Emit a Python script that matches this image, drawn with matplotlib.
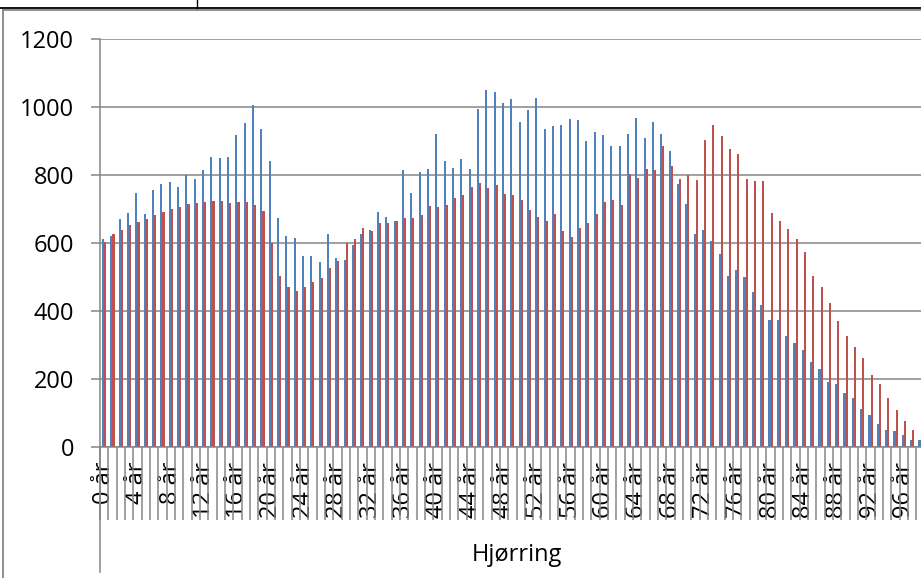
import numpy as np
import matplotlib
matplotlib.use("Agg")
import matplotlib.pyplot as plt
from matplotlib.lines import Line2D

plt.rcParams['font.family'] = ['Open Sans', 'DejaVu Sans']

# ages 0..99 (the last ones are cut off at the right edge of the picture)
ages = list(range(100))
tick_ages = list(range(0, 100, 4))
tick_labels = [f"{a} år" for a in tick_ages]

blue_vals = [612, 621, 669, 686, 745, 683, 754, 774, 778, 763,
             798, 786, 813, 852, 849, 852, 917, 952, 1006, 933,
             840, 674, 620, 613, 561, 561, 542, 626, 556, 548,
             592, 625, 638, 689, 676, 663, 813, 745, 807, 817,
             920, 840, 819, 845, 817, 993, 1050, 1043, 1011, 1024,
             956, 991, 1025, 933, 942, 946, 964, 961, 898, 925,
             918, 884, 883, 919, 968, 908, 954, 920, 870, 773,
             713, 625, 636, 604, 567, 501, 520, 499, 455, 416,
             374, 373, 326, 305, 284, 249, 229, 190, 184, 157,
             143, 112, 92, 67, 49, 46, 35, 19, 20, 10]

red_vals = [601, 625, 638, 651, 660, 670, 681, 690, 700, 705,
            713, 718, 721, 724, 723, 718, 721, 721, 711, 692,
            600, 501, 470, 457, 470, 484, 495, 526, 546, 598,
            610, 642, 634, 657, 658, 664, 673, 673, 681, 708,
            706, 711, 732, 740, 764, 776, 761, 770, 742, 739,
            726, 695, 676, 664, 683, 633, 616, 643, 658, 683,
            720, 725, 711, 801, 791, 817, 814, 884, 827, 787,
            800, 784, 902, 946, 915, 877, 861, 787, 781, 780,
            687, 664, 640, 610, 573, 503, 470, 423, 370, 325,
            293, 262, 210, 183, 142, 109, 75, 49, 30, 20]

y_ticks = [0, 200, 400, 600, 800, 1000, 1200]
group_label = "Hjørring"

BLUE = '#4F81BD'
RED = '#C0504D'
GREY = '#868686'
W, H = 921, 578
FS = 17

fig = plt.figure(figsize=(W / 100, H / 100), dpi=100)
ax = fig.add_axes([100 / W, (H - 446.7) / H, 833 / W, 408 / H])

x = np.arange(len(ages))
bw = 0.25
ax.bar(x - bw / 2, blue_vals, width=bw, color=BLUE, linewidth=0)
ax.bar(x + bw / 2, red_vals, width=bw, color=RED, linewidth=0)

ax.set_xlim(-0.5, len(ages) - 0.5)
ax.set_ylim(0, 1200)
ax.set_yticks(y_ticks)
ax.yaxis.grid(True, color=GREY, linewidth=1.1)
ax.set_axisbelow(True)

for s in ['top', 'right']:
    ax.spines[s].set_visible(False)
for s in ['left', 'bottom']:
    ax.spines[s].set_color(GREY)
    ax.spines[s].set_linewidth(1.1)

ax.tick_params(axis='y', direction='out', length=6.5, width=1.1,
               color=GREY, pad=12, labelsize=FS)

ax.set_xticks(tick_ages)
ax.set_xticklabels(tick_labels, rotation=90, fontsize=FS)
ax.tick_params(axis='x', which='major', length=0, pad=11)
ax.set_xticks(np.arange(-0.5, len(ages), 1), minor=True)
ax.tick_params(axis='x', which='minor', direction='out', length=52.8,
               width=1.1, color=GREY)

# outer category axis line under the labels
ax.plot([0, 0], [0, -(572 - 446.7) / 408], transform=ax.transAxes,
        clip_on=False, color=GREY, lw=1.1)

fig.text(517 / W, 1 - 555 / H, group_label, ha='center', va='center',
         fontsize=FS)

# chart frame and the bit of table above it
fig.add_artist(Line2D([3 / W, 3 / W], [1 - 10 / H, 0], transform=fig.transFigure,
                      color=GREY, lw=1.3))
fig.add_artist(Line2D([3 / W, 1], [1 - 10.3 / H, 1 - 10.3 / H], transform=fig.transFigure,
                      color=GREY, lw=1.3))
fig.add_artist(Line2D([0, 1], [1 - 8 / H, 1 - 8 / H], transform=fig.transFigure,
                      color='black', lw=1.3))
fig.add_artist(Line2D([197 / W, 197 / W], [1, 1 - 8 / H], transform=fig.transFigure,
                      color='black', lw=1.0))

fig.savefig('out.png', dpi=100)
